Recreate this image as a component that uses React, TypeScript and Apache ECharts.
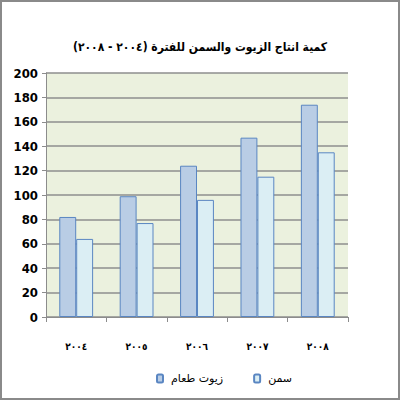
import React, { useEffect, useRef } from "react";
import * as echarts from "echarts";

// Oil and ghee production, 2004–2008
const years = ["٢٠٠٤", "٢٠٠٥", "٢٠٠٦", "٢٠٠٧", "٢٠٠٨"];
const cookingOil = [82, 99, 124, 147, 174];
const ghee = [64, 77, 96, 115, 135];
const seriesNames = ["زيوت طعام", "سمن"];
const titleText = "كمية انتاج الزيوت والسمن للفترة (٢٠٠٤ - ٢٠٠٨)";

export default function App() {
  const ref = useRef<HTMLDivElement>(null);

  useEffect(() => {
    document.body.style.margin = "0";
    if (!ref.current) return;
    const chart = echarts.init(ref.current, null, { renderer: "svg" });
    chart.setOption({
      animation: false,
      backgroundColor: "#ffffff",
      title: {
        text: titleText,
        left: "center",
        top: 36,
        textStyle: {
          fontFamily: "DejaVu Sans Condensed, DejaVu Sans",
          fontWeight: "bold",
          fontSize: 12,
          color: "#000000",
        },
      },
      legend: {
        data: seriesNames,
        top: 368,
        left: 151,
        itemWidth: 6,
        itemHeight: 8,
        itemGap: 30,
        textStyle: { fontFamily: "DejaVu Sans", fontSize: 11, color: "#000", padding: [0, 0, 0, 3] },
      },
      grid: {
        left: 46,
        right: 52,
        top: 73,
        bottom: 83,
        show: true,
        backgroundColor: "#EBF1DE",
        borderWidth: 0,
      },
      xAxis: {
        type: "category",
        data: years,
        axisLine: { lineStyle: { color: "#8c8c8c", width: 1 } },
        axisTick: { show: true, length: 5, lineStyle: { color: "#8c8c8c" } },
        axisLabel: {
          margin: 24,
          fontFamily: "DejaVu Sans Condensed, DejaVu Sans",
          fontWeight: "bold",
          fontSize: 10,
          color: "#000",
        },
      },
      yAxis: {
        type: "value",
        min: 0,
        max: 200,
        interval: 20,
        axisLine: { show: true, lineStyle: { color: "#8c8c8c" } },
        axisTick: { show: true, length: 4, lineStyle: { color: "#8c8c8c" } },
        splitLine: { lineStyle: { color: "#8e8e8e", width: 1.5 } },
        axisLabel: {
          margin: 8,
          fontFamily: "Liberation Sans Narrow, DejaVu Sans Condensed, sans-serif",
          fontWeight: "bold",
          fontSize: 13,
          color: "#000",
        },
      },
      series: [
        {
          name: seriesNames[0],
          type: "bar",
          data: cookingOil,
          barGap: "0%",
          barCategoryGap: "44%",
          itemStyle: { color: "#B9CDE5", borderColor: "#5A86C2", borderWidth: 1 },
        },
        {
          name: seriesNames[1],
          type: "bar",
          data: ghee,
          itemStyle: { color: "#DBEEF4", borderColor: "#5A86C2", borderWidth: 1 },
        },
      ],
      graphic: [
        {
          type: "rect",
          shape: { x: 1, y: 1, width: 398, height: 398 },
          style: { fill: "none", stroke: "#8a8a8a", lineWidth: 2 },
          silent: true,
          z: 100,
        },
      ],
    });
    return () => chart.dispose();
  }, []);

  return <div ref={ref} style={{ width: 400, height: 400 }} />;
}
